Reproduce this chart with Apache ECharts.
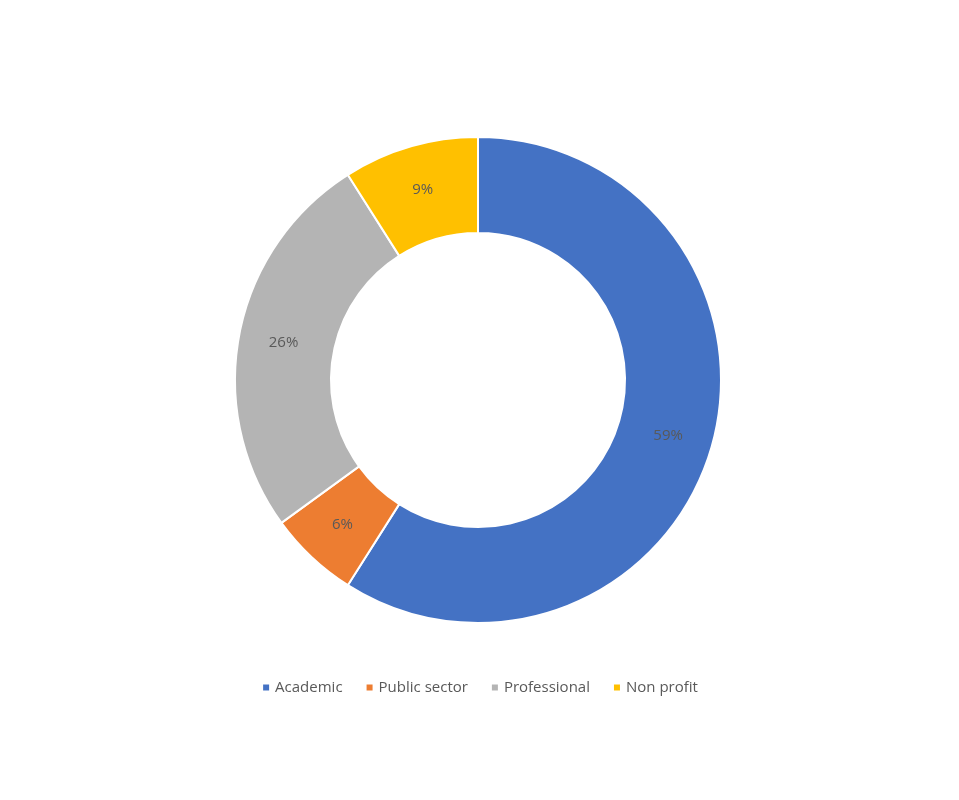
<!DOCTYPE html>
<html><head><meta charset="utf-8">
<script src="https://cdn.jsdelivr.net/npm/echarts@6/dist/echarts.min.js"></script>
<style>html,body{margin:0;padding:0;background:#fff}#c{width:959px;height:800px}</style>
</head><body><div id="c"></div>
<script>
const categories = ['Academic', 'Public sector', 'Professional', 'Non profit'];
const values = [59, 6, 26, 9];
const colors = ['#4472C4', '#ED7D31', '#A5A5A5', '#FFC000'];
const chart = echarts.init(document.getElementById('c'));
chart.setOption({
  animation: false,
  color: ['#4472C4', '#ED7D31', '#B4B4B4', '#FFC000'],
  legend: {
    bottom: 100, left: 'center', itemWidth: 8, itemHeight: 8, icon: 'rect', itemGap: 22,
    textStyle: { color: '#595959', fontSize: 15, fontFamily: 'Open Sans' },
    data: categories
  },
  series: [{
    type: 'pie', center: [478, 380], radius: [147, 243], startAngle: 90, clockwise: true,
    itemStyle: { borderColor: '#fff', borderWidth: 2 },
    label: { position: 'inside', formatter: '{d}%', color: '#595959', fontSize: 15, fontFamily: 'Open Sans' },
    labelLine: { show: false },
    data: categories.map((n, i) => ({ name: n, value: values[i] }))
  }]
});
</script></body></html>
